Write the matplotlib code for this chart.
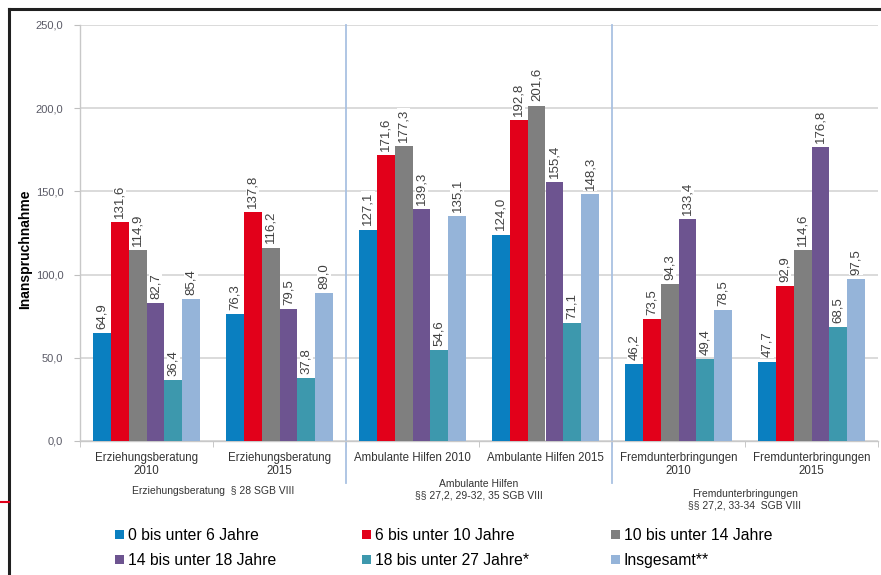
import numpy as np
import matplotlib.pyplot as plt
from matplotlib.lines import Line2D
from matplotlib.patches import Patch
import matplotlib.transforms as mtransforms

plt.rcParams['font.family'] = ['Liberation Sans', 'DejaVu Sans']

# Daten
categories = ['Erziehungsberatung\n2010', 'Erziehungsberatung\n2015',
              'Ambulante Hilfen 2010', 'Ambulante Hilfen 2015',
              'Fremdunterbringungen\n2010', 'Fremdunterbringungen\n2015']
series = ['0 bis unter 6 Jahre', '6 bis unter 10 Jahre', '10 bis unter 14 Jahre',
          '14 bis unter 18 Jahre', '18 bis unter 27 Jahre*', 'Insgesamt**']
age_0_6 = [64.9, 76.3, 127.1, 124.0, 46.2, 47.7]
age_6_10 = [131.6, 137.8, 171.6, 192.8, 73.5, 92.9]
age_10_14 = [114.9, 116.2, 177.3, 201.6, 94.3, 114.6]
age_14_18 = [82.7, 79.5, 139.3, 155.4, 133.4, 176.8]
age_18_27 = [36.4, 37.8, 54.6, 71.1, 49.4, 68.5]
total = [85.4, 89.0, 135.1, 148.3, 78.5, 97.5]
values = [age_0_6, age_6_10, age_10_14, age_14_18, age_18_27, total]
colors = ['#0a7fc0', '#e2001a', '#7f7f7f', '#6d5490', '#3d98ad', '#95b4d9']

groups = ['Erziehungsberatung  § 28 SGB VIII',
          'Ambulante Hilfen\n§§ 27,2, 29-32, 35 SGB VIII',
          'Fremdunterbringungen\n§§ 27,2, 33-34  SGB VIII']
group_pos = [0.5, 2.5, 4.5]
group_y = [-0.12, -0.118, -0.142]

fig = plt.figure(figsize=(8.81, 5.75), dpi=100)
ax = fig.add_axes([80 / 881, 134 / 575, 798 / 881, 416 / 575])

x = np.arange(len(categories))
w = 0.134
for i, (vals, col) in enumerate(zip(values, colors)):
    bars = ax.bar(x + (i - 2.5) * w, vals, w, color=col, label=series[i], zorder=3)
    labels = [f'{v:.1f}'.replace('.', ',') for v in vals]
    txts = ax.bar_label(bars, labels=labels, rotation=90, padding=3,
                        fontsize=9.5, color='#404040', zorder=4)
    for t in txts:
        t.set_bbox(dict(facecolor='white', edgecolor='none', pad=0.5))

ax.set_xlim(-0.5, 5.5)
ax.set_ylim(0, 250)
ax.set_yticks(np.arange(0, 251, 50))
ax.set_yticklabels([f'{v:.1f}'.replace('.', ',') for v in np.arange(0, 251, 50)],
                   fontsize=8, color='#5a5a66')
ax.yaxis.grid(True, color='#d4d4d4', linewidth=1.2, zorder=0)
ax.set_axisbelow(True)

ax.set_xticks(x)
ax.set_xticklabels(categories, fontsize=8.3, color='#333333', linespacing=1.1)
ax.set_xticks(np.arange(-0.5, 6, 1), minor=True)
ax.tick_params(axis='x', which='major', length=0, pad=8)
ax.tick_params(axis='x', which='minor', length=4, color='#bfbfbf')
ax.tick_params(axis='y', length=4, color='#bfbfbf', pad=8)

for s in ['top', 'right']:
    ax.spines[s].set_visible(False)
for s in ['left', 'bottom']:
    ax.spines[s].set_color('#c8c8c8')
    ax.spines[s].set_linewidth(1.0)

for xs in [1.5, 3.5]:
    ax.axvline(xs, ymin=-0.10, ymax=1, color='#a9c1e2', linewidth=1.3,
               clip_on=False, zorder=1)

trans = mtransforms.blended_transform_factory(ax.transData, ax.transAxes)
for gx, gy, g in zip(group_pos, group_y, groups):
    ax.text(gx, gy, g, transform=trans, ha='center', va='center',
            fontsize=7.5, color='#333333', linespacing=1.15)

ax.set_ylabel('Inanspruchnahme', fontsize=10, fontweight='bold')
ax.yaxis.set_label_coords(-0.06, 0.46)

# Legende: drei Spalten mit festem Abstand
handles = [Patch(facecolor=c) for c in colors]
col_x = [115, 362, 611]
for j, cx in enumerate(col_x):
    leg = fig.legend([handles[j], handles[j + 3]], [series[j], series[j + 3]],
                     loc='upper left', bbox_to_anchor=(cx / 881, 1 - 528 / 575),
                     frameon=False, fontsize=11.3, handlelength=0.55, handleheight=0.55,
                     handletextpad=0.25, labelspacing=0.65, borderpad=0, borderaxespad=0)

# Rahmen der Folie
fig.add_artist(Line2D([9 / 881, 9 / 881], [0, 1 - 9 / 575], color='#202020', linewidth=2.2))
fig.add_artist(Line2D([9 / 881, 1], [1 - 9 / 575, 1 - 9 / 575], color='#202020', linewidth=2.2))
fig.add_artist(Line2D([0, 9 / 881], [1 - 502 / 575, 1 - 502 / 575], color='#e2001a', linewidth=1.5))

fig.savefig('out.png', dpi=100)
